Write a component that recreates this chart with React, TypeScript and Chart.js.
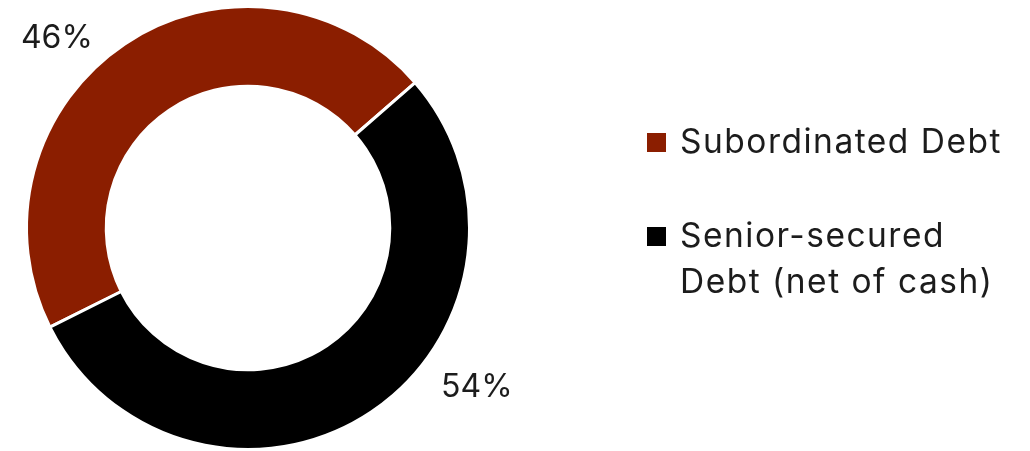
import React, { useEffect, useRef } from "react";
import { Chart, registerables } from "chart.js";

Chart.register(...registerables);

// ---- data ----
const categories = ["Subordinated Debt", "Senior-secured Debt (net of cash)"];
const legendLines = [["Subordinated Debt"], ["Senior-secured", "Debt (net of cash)"]];
const shares = [46, 54];
const percentLabels = ["46%", "54%"];
const colors = ["#8B1E00", "#000000"];

const FONT = "Inter, 'Noto Sans', sans-serif";
const TEXT_COLOR = "#1c1c1c";

const overlayPlugin = {
  id: "overlayLabels",
  afterDraw(chart: any) {
    const ctx = chart.ctx as CanvasRenderingContext2D;
    const meta = chart.getDatasetMeta(0);
    ctx.save();
    ctx.font = `400 32px ${FONT}`;
    (ctx as any).letterSpacing = "0px";
    ctx.fillStyle = TEXT_COLOR;
    ctx.textAlign = "center";
    ctx.textBaseline = "alphabetic";

    // percentage labels outside the ring
    const labelAngles = [315, 124.6];
    const labelDist = [1.22, 1.255];
    meta.data.forEach((arc: any, i: number) => {
      const { x, y, outerRadius } = arc.getProps(["x", "y", "outerRadius"], true);
      const a = ((labelAngles[i] - 90) * Math.PI) / 180;
      const r = outerRadius * labelDist[i];
      ctx.fillText(percentLabels[i], x + r * Math.cos(a), y + r * Math.sin(a) + 11.5);
    });

    // legend
    ctx.font = `400 33.5px ${FONT}`;
    (ctx as any).letterSpacing = "1.5px";
    ctx.textAlign = "left";
    const boxX = 647;
    const boxSize = 19;
    const textX = 680;
    let baseline = 153;
    const lineGap = 46;
    const itemGap = 94;
    legendLines.forEach((lines, i) => {
      ctx.fillStyle = colors[i];
      ctx.fillRect(boxX, baseline - 20, boxSize, boxSize);
      ctx.fillStyle = TEXT_COLOR;
      lines.forEach((line, j) => {
        ctx.fillText(line, textX, baseline + j * lineGap);
      });
      baseline += itemGap;
    });
    ctx.restore();
  },
};

export default function App() {
  const canvasRef = useRef<HTMLCanvasElement | null>(null);

  useEffect(() => {
    if (!canvasRef.current) return;
    const chart = new Chart(canvasRef.current, {
      type: "doughnut",
      data: {
        labels: categories,
        datasets: [
          {
            data: shares,
            backgroundColor: colors,
            borderColor: "#ffffff",
            borderWidth: 3,
            hoverOffset: 0,
          },
        ],
      },
      options: {
        responsive: false,
        maintainAspectRatio: false,
        animation: false,
        rotation: -116.6,
        cutout: "64%",
        layout: { padding: { left: 25, top: 5, right: 559, bottom: 0 } },
        plugins: {
          legend: { display: false },
          tooltip: { enabled: false },
        },
      },
      plugins: [overlayPlugin],
    } as any);
    return () => chart.destroy();
  }, []);

  return (
    <div
      style={{
        position: "fixed",
        left: 0,
        top: 0,
        width: 1030,
        height: 451,
        background: "#ffffff",
      }}
    >
      <canvas ref={canvasRef} width={1030} height={451} style={{ width: 1030, height: 451 }} />
    </div>
  );
}
